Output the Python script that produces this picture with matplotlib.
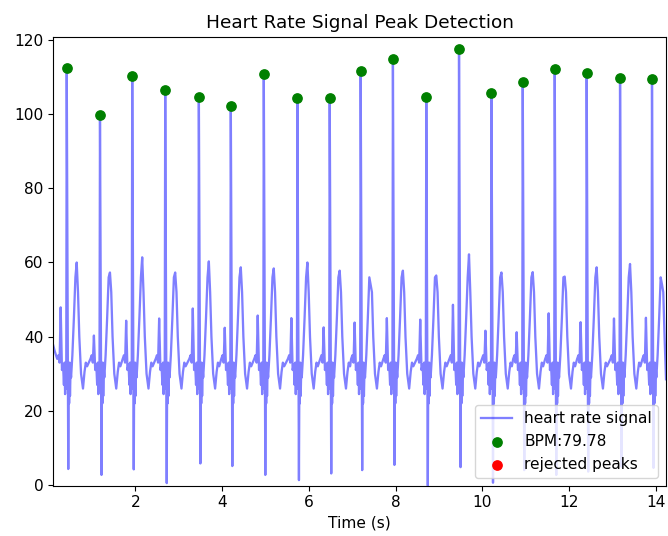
import matplotlib
matplotlib.use('Agg')
import matplotlib.pyplot as plt
import numpy as np

plt.rcParams['font.size'] = 11.1

# detected R peaks (time in s, amplitude)
peak_t = [0.415, 1.182, 1.926, 2.687, 3.463, 4.200, 4.961, 5.737, 6.482, 7.196,
          7.940, 8.710, 9.465, 10.214, 10.935, 11.673, 12.410, 13.180, 13.917]
peak_v = [112.5, 99.8, 110.3, 106.5, 104.6, 102.2, 110.8, 104.4, 104.4, 111.6,
          114.9, 104.7, 117.6, 105.6, 108.8, 112.1, 111.0, 109.7, 109.4]
# per beat: S trough, T wave top, small bump before R
s_v = [4.3, 2.7, 4.2, 0.5, 5.8, 5.1, 2.7, 1.3, 3.1, 4.0,
       5.4, -0.2, 4.8, 0.6, 4.0, 2.7, 3.6, 4.9, 4.6]
t_v = [60.0, 57.3, 61.4, 57.3, 60.3, 58.7, 58.4, 60.0, 57.8, 54.0,
       57.8, 56.5, 62.2, 57.3, 57.4, 56.2, 58.7, 59.6, 54.1]
p_v = [47.9, 40.3, 44.3, 44.9, 47.6, 42.4, 45.7, 45.0, 42.5, 43.8,
       45.0, 44.6, 48.6, 41.6, 41.2, 46.3, 43.9, 44.9, 45.1]

# shape of one beat around the R peak (offset s, value)
pre_off = [-0.22, -0.19, -0.165, -0.14, -0.11, -0.085, -0.065, -0.05, -0.038, -0.025, -0.012]
pre_val = [34.0, 35.0, 33.0, None, 31.0, 32.5, 27.0, 33.0, 24.5, 31.0, 26.0]
post_off = [0.035, 0.045, 0.055, 0.065, 0.075, 0.088, 0.10, 0.13, 0.165, 0.20, 0.23,
            0.26, 0.29, 0.33, 0.375, 0.41, 0.44, 0.47]
post_val = [None, 30.0, 22.0, 33.0, 24.0, 31.0, 29.0, 35.0, 45.0, 56.0, None,
            52.0, 40.0, 30.0, 26.0, 30.5, 33.0, 32.0]

start_t = [0.105, 0.14]
start_v = [37.6, 36.0]
end_t = [14.24]
end_v = [28.5]

bpm = 79.78

xs = list(start_t)
ys = list(start_v)
for i in range(len(peak_t)):
    for o, v in zip(pre_off, pre_val):
        xs.append(peak_t[i] + o)
        ys.append(p_v[i] if v is None else v)
    xs.append(peak_t[i])
    ys.append(peak_v[i])
    for k, (o, v) in enumerate(zip(post_off, post_val)):
        if peak_t[i] + o > end_t[0]:
            break
        xs.append(peak_t[i] + o)
        if k == 0:
            ys.append(s_v[i])
        elif v is None:
            ys.append(t_v[i])
        else:
            ys.append(v)
xs += end_t
ys += end_v

fig = plt.figure(figsize=(6.68, 5.36), dpi=100)
ax = fig.add_axes([53.3 / 668, (536 - 485.7) / 536, (666 - 53.3) / 668, (485.7 - 36.7) / 536])

ax.plot(xs, ys, color='blue', alpha=0.5, lw=1.65, label='heart rate signal', zorder=-10)
ax.scatter(peak_t, peak_v, color='green', s=45, label='BPM:%.2f' % bpm)
ax.scatter([], [], color='red', s=45, label='rejected peaks')

ax.set_xlim(0.105, 14.24)
ax.set_ylim(-0.2, 120.9)
ax.set_title('Heart Rate Signal Peak Detection')
ax.set_xlabel('Time (s)')
ax.legend(loc='lower right', framealpha=0.8)

fig.savefig('out.png', dpi=100)
